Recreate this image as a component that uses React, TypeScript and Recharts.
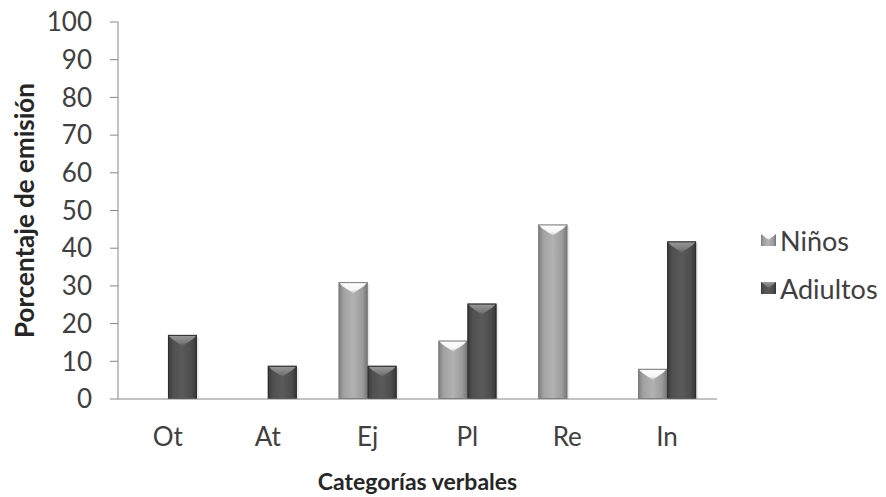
import { BarChart, Bar, XAxis, YAxis, Legend, Label } from "recharts";

// Categorías verbales y porcentajes de emisión por grupo
const categories = ["Ot", "At", "Ej", "Pl", "Re", "In"];
const ninos = [0, 0, 31, 15.5, 46.3, 8];
const adultos = [17, 8.8, 8.8, 25.3, 0, 41.8];
const seriesNames = ["Niños", "Adiultos"];
const yTicks = [0, 10, 20, 30, 40, 50, 60, 70, 80, 90, 100];

const data = categories.map((cat, i) => ({
  cat,
  ninos: ninos[i],
  adultos: adultos[i],
}));

const FONT = "Lato, 'Open Sans', sans-serif";
const AXIS = "#868686";

// barra con relieve: cuerpo con degradado horizontal y tapa en triángulo
const bevelBar = (kind: "light" | "dark") => (props: any) => {
  const { x, y, width, height } = props;
  if (!height || height <= 0) return <g />;
  const tip = Math.min(11, height);
  const b = Math.min(4, height / 2);
  return (
    <g>
      <rect x={x + 2} y={y + 2} width={width} height={height - 2} fill="#000" opacity={0.08} />
      <rect x={x} y={y} width={width} height={height} fill={`url(#body-${kind})`} />
      <polygon
        points={`${x},${y} ${x + width},${y} ${x + width - b},${y + b} ${x + width / 2},${y + tip} ${x + b},${y + b}`}
        fill={`url(#cap-${kind})`}
      />
      <rect
        x={x + 0.5}
        y={y + 0.5}
        width={width - 1}
        height={height - 1}
        fill="none"
        stroke={kind === "light" ? "#7a7a7a" : "#2e2e2e"}
        strokeWidth={1}
      />
    </g>
  );
};

const renderLegend = () => (
  <div style={{ fontFamily: FONT, fontSize: 27, color: "#404040" }}>
    {seriesNames.map((name, i) => (
      <div key={name} style={{ display: "flex", alignItems: "center", height: 48, whiteSpace: "nowrap" }}>
        <svg width={15} height={12} style={{ marginRight: 4 }}>
          <rect x={0} y={0} width={15} height={12} fill={i === 0 ? "url(#body-light)" : "url(#body-dark)"} />
          <polygon points="0,0 15,0 7.5,6" fill={i === 0 ? "url(#cap-light)" : "url(#cap-dark)"} />
        </svg>
        {name}
      </div>
    ))}
  </div>
);

export default function App() {
  return (
    <div style={{ position: "absolute", left: 0, top: 0, width: 886, height: 497, background: "#fff" }}>
      <BarChart
        width={886}
        height={497}
        data={data}
        margin={{ top: 22, right: 169, left: 0, bottom: 0 }}
        barCategoryGap="21%"
        barGap={0}
      >
        <defs>
          <linearGradient id="body-light" x1="0" y1="0" x2="1" y2="0">
            <stop offset="0" stopColor="#7e7e7e" />
            <stop offset="0.18" stopColor="#a2a2a2" />
            <stop offset="0.5" stopColor="#b2b2b2" />
            <stop offset="0.82" stopColor="#9c9c9c" />
            <stop offset="1" stopColor="#737373" />
          </linearGradient>
          <linearGradient id="body-dark" x1="0" y1="0" x2="1" y2="0">
            <stop offset="0" stopColor="#393939" />
            <stop offset="0.18" stopColor="#505050" />
            <stop offset="0.5" stopColor="#5a5a5a" />
            <stop offset="0.82" stopColor="#4c4c4c" />
            <stop offset="1" stopColor="#343434" />
          </linearGradient>
          <linearGradient id="cap-light" x1="0" y1="0" x2="0" y2="1">
            <stop offset="0" stopColor="#ffffff" />
            <stop offset="0.7" stopColor="#f4f4f4" />
            <stop offset="1" stopColor="#c8c8c8" />
          </linearGradient>
          <linearGradient id="cap-dark" x1="0" y1="0" x2="0" y2="1">
            <stop offset="0" stopColor="#9a9a9a" />
            <stop offset="0.7" stopColor="#7a7a7a" />
            <stop offset="1" stopColor="#5e5e5e" />
          </linearGradient>
        </defs>
        <XAxis
          dataKey="cat"
          height={98}
          tickLine={false}
          tickMargin={23}
          axisLine={{ stroke: AXIS }}
          tick={{ fill: "#404040", fontSize: 26, fontFamily: FONT }}
        >
          <Label
            content={(p: any) => {
              const vb = p.viewBox || {};
              const cx = (vb.x ?? 118) + (vb.width ?? 599) / 2;
              return (
                <text
                  x={cx}
                  y={490}
                  textAnchor="middle"
                  style={{ fill: "#262626", fontSize: 23, fontWeight: 700, fontFamily: FONT }}
                >
                  Categorías verbales
                </text>
              );
            }}
          />
        </XAxis>
        <YAxis
          width={118}
          domain={[0, 100]}
          ticks={yTicks}
          interval={0}
          tickSize={8}
          tickMargin={18}
          axisLine={{ stroke: AXIS }}
          tickLine={{ stroke: AXIS }}
          tick={{ fill: "#404040", fontSize: 26, fontFamily: FONT }}
        >
          <Label
            content={(p: any) => {
              const vb = p.viewBox || {};
              const cy = (vb.y ?? 22) + (vb.height ?? 377) / 2;
              return (
                <text
                  x={24}
                  y={cy}
                  transform={`rotate(-90, 24, ${cy})`}
                  textAnchor="middle"
                  dominantBaseline="central"
                  style={{ fill: "#262626", fontSize: 26, fontWeight: 700, fontFamily: FONT }}
                >
                  Porcentaje de emisión
                </text>
              );
            }}
          />
        </YAxis>
        <Legend
          layout="vertical"
          align="center"
          verticalAlign="middle"
          content={renderLegend}
          wrapperStyle={{ left: 761, top: 216, width: 125 }}
        />
        <Bar dataKey="ninos" name={seriesNames[0]} fill="#a6a6a6" shape={bevelBar("light")} isAnimationActive={false} />
        <Bar dataKey="adultos" name={seriesNames[1]} fill="#505050" shape={bevelBar("dark")} isAnimationActive={false} />
      </BarChart>
    </div>
  );
}
